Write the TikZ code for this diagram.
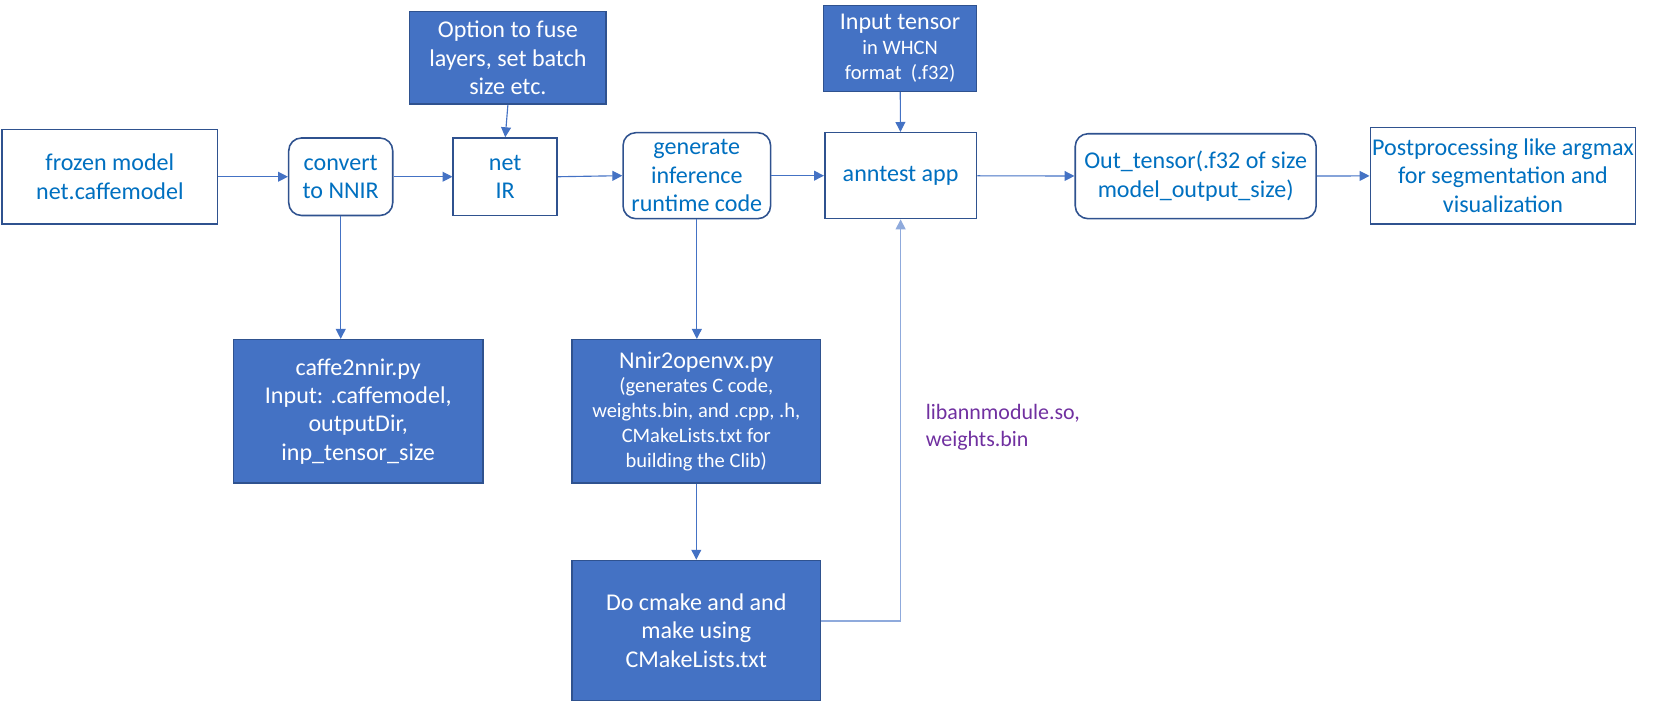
\documentclass[tikz,border=0pt]{standalone}
\usepackage{fontspec}
\setmainfont{Carlito}
\usetikzlibrary{arrows.meta}
\definecolor{txtblue}{HTML}{0070C0}
\definecolor{bordblue}{HTML}{2F528F}
\definecolor{fillblue}{HTML}{4472C4}
\definecolor{lightblue}{HTML}{8FAADC}
\definecolor{labpurple}{HTML}{7030A0}
\newcommand{\bigf}{\fontsize{17}{20}\selectfont}
\newcommand{\smallf}{\fontsize{14.5}{17.6}\selectfont}
\tikzset{
  base/.style={inner sep=0pt, align=center, font=\bigf, line width=1.1pt, draw=bordblue},
  outbox/.style={base, text=txtblue, fill=white},
  roundbox/.style={outbox, rounded corners=9pt},
  filledbox/.style={base, text=white, fill=fillblue},
  arr/.style={draw=fillblue, line width=0.8pt, -{Triangle[length=7pt,width=7pt]}},
  arrlight/.style={draw=lightblue, line width=1pt, -{Triangle[length=7pt,width=7pt]}},
}
\begin{document}
\begin{tikzpicture}[x=0.75pt,y=-0.75pt]
\useasboundingbox (0,0) rectangle (1579,665);
\node[outbox, minimum width={203*0.75pt}, minimum height={89*0.75pt}] (frozen) at (103.5,166.5) {frozen model\\net.caffemodel};
\node[roundbox, minimum width={98*0.75pt}, minimum height={73*0.75pt}] (convert) at (321,166.5) {convert\\to NNIR};
\node[outbox, minimum width={98*0.75pt}, minimum height={73*0.75pt}] (net) at (476,166.5) {net\\IR};
\node[filledbox, minimum width={185*0.75pt}, minimum height={87*0.75pt}] (option) at (478.5,54.5) {Option to fuse\\layers, set batch\\size etc.};
\node[roundbox, minimum width={139*0.75pt}, minimum height={81*0.75pt}] (generate) at (656.5,165.5) {generate\\inference\\runtime code};
\node[outbox, minimum width={143*0.75pt}, minimum height={81*0.75pt}] (anntest) at (848.5,165.5) {anntest app};
\node[filledbox, font=\smallf, minimum width={144*0.75pt}, minimum height={81*0.75pt}] (input) at (848,45.5) {{\bigf Input tensor}\\in WHCN\\format~~(.f32)};
\node[roundbox, minimum width={227*0.75pt}, minimum height={80*0.75pt}] (out) at (1126.5,166) {Out\_tensor(.f32 of size\\model\_output\_size)};
\node[outbox, minimum width={250*0.75pt}, minimum height={91*0.75pt}] (post) at (1416,165.5) {Postprocessing like argmax\\for segmentation and\\visualization};
\node[filledbox, minimum width={235*0.75pt}, minimum height={135*0.75pt}] (caffe) at (337.5,387.5) {caffe2nnir.py\\Input: .caffemodel,\\outputDir,\\inp\_tensor\_size};
\node[filledbox, font=\smallf, minimum width={234*0.75pt}, minimum height={135*0.75pt}] (nnir) at (656,387.5) {{\bigf Nnir2openvx.py}\\(generates C code,\\weights.bin, and .cpp, .h,\\CMakeLists.txt for\\building the Clib)};
\node[filledbox, minimum width={234*0.75pt}, minimum height={132*0.75pt}] (docmake) at (656,594) {Do cmake and and\\make using\\CMakeLists.txt};
\node[text=labpurple, anchor=north west, align=left, inner sep=0pt, font=\fontsize{15.5}{19}\selectfont] (lib) at (872,381) {libannmodule.so,\\weights.bin};
\draw[arr] (frozen) -- (convert);
\draw[arr] (convert) -- (net);
\draw[arr] (net.east) -- (generate.west);
\draw[arr] (generate) -- (anntest);
\draw[arr] (anntest) -- (out);
\draw[arr] (out) -- (post);
\draw[arr] (option.south) -- (net.north);
\draw[arr] (input) -- (anntest);
\draw[arr] (convert.south) -- (convert.south |- caffe.north);
\draw[arr] (generate.south) -- (generate.south |- nnir.north);
\draw[arr] (nnir) -- (docmake);
\draw[arrlight] ([yshift=6.75pt]docmake.east) -| (anntest.south);
\end{tikzpicture}
\end{document}
